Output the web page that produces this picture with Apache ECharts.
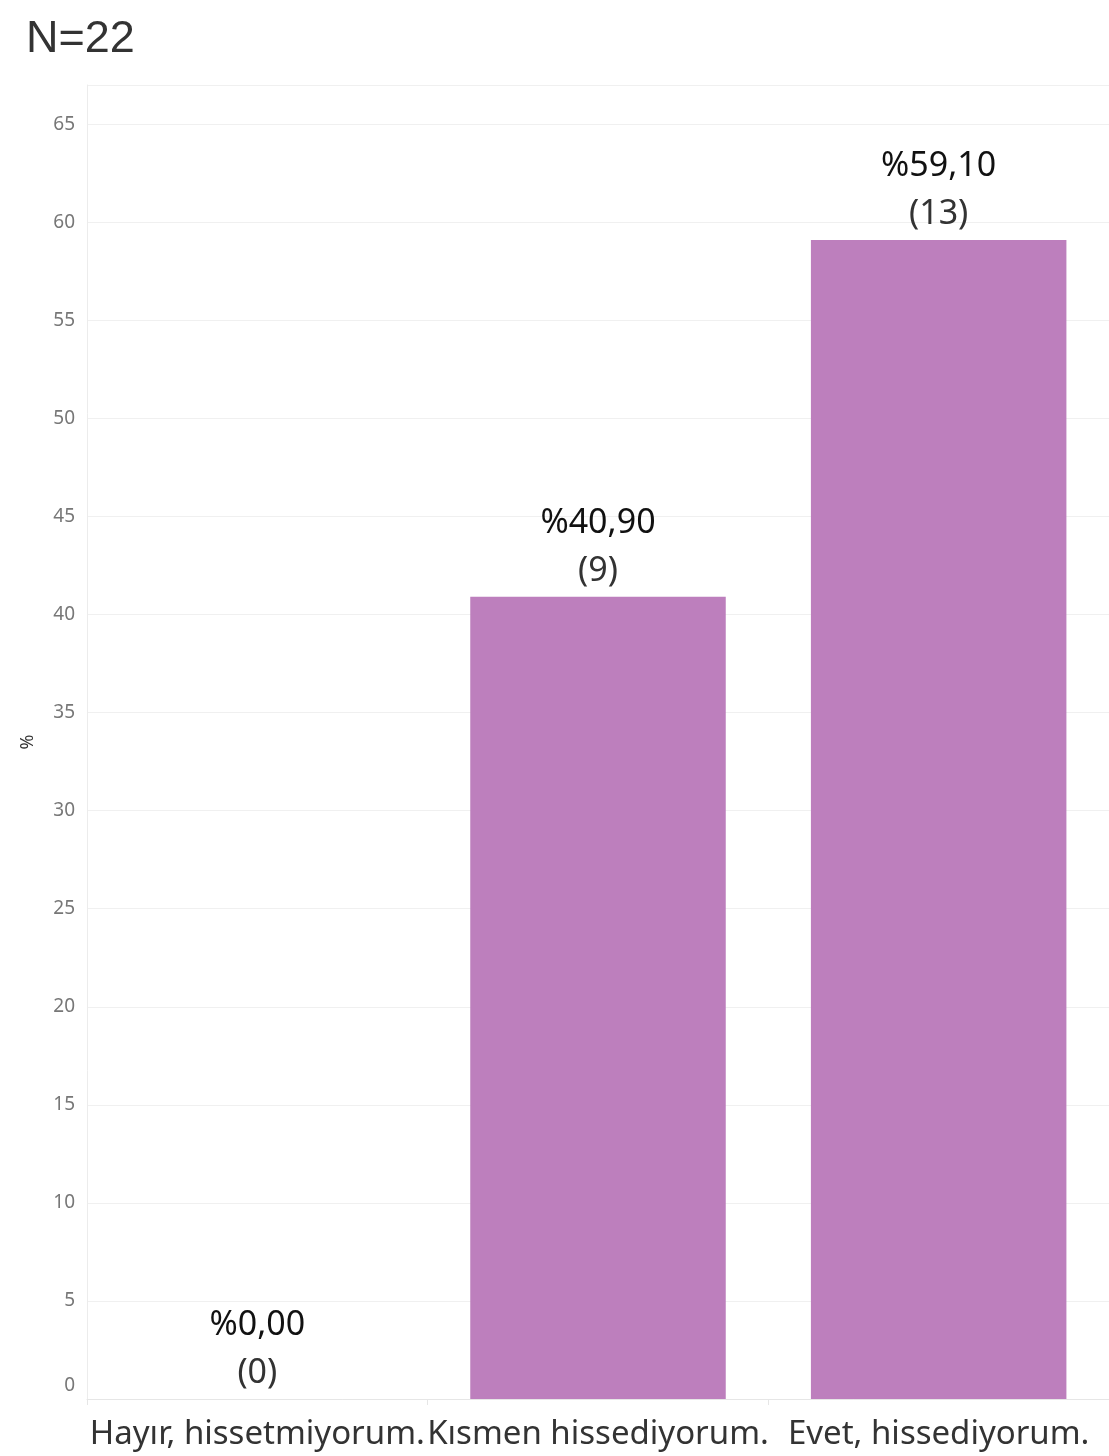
<!DOCTYPE html>
<html><head><meta charset="utf-8">
<script src="https://cdn.jsdelivr.net/npm/echarts@6/dist/echarts.min.js"></script>
<style>html,body{margin:0;padding:0;background:#fff}#c{width:1109px;height:1456px}</style>
</head><body><div id="c"></div>
<script>
const categories = ['Hayır, hissetmiyorum.', 'Kısmen hissediyorum.', 'Evet, hissediyorum.'];
const percents = [0, 40.9, 59.1];
const counts = [0, 9, 13];
const yTicks = [0, 5, 10, 15, 20, 25, 30, 35, 40, 45, 50, 55, 60, 65];

const chart = echarts.init(document.getElementById('c'));
const fmt = v => '%' + v.toFixed(2).replace('.', ',');
chart.setOption({
  animation: false,
  title: { text: 'N=22', left: 21, top: 12, textStyle: { fontFamily: 'Liberation Sans', fontSize: 45, fontWeight: 'normal', color: '#333' } },
  grid: { left: 87, right: 0, top: 85, bottom: 57 },
  xAxis: {
    type: 'category', data: categories,
    axisLine: { show: true, lineStyle: { color: '#e6e6e6' } },
    axisTick: { show: true, alignWithLabel: false, length: 6, lineStyle: { color: '#e6e6e6' } },
    axisLabel: { interval: 0, margin: 19, fontFamily: 'Noto Sans', fontSize: 33, color: '#333', hideOverlap: false }
  },
  yAxis: {
    type: 'value', min: 0, max: 67, interval: 5,
    name: '%', nameLocation: 'middle', nameGap: 50, nameRotate: 90,
    nameTextStyle: { fontFamily: 'Noto Sans', fontSize: 18, color: '#333' },
    axisLine: { show: true, lineStyle: { color: '#ececec' } },
    axisTick: { show: false },
    splitLine: { lineStyle: { color: '#f0f0f0', width: 1 } },
    axisLabel: {
      showMaxLabel: false, margin: 12, fontFamily: 'Noto Sans', fontSize: 19, color: '#777',
      formatter: v => yTicks.includes(v) ? (v === 0 ? '{z|0}' : String(v)) : '',
      rich: { z: { fontFamily: 'Noto Sans', fontSize: 19, color: '#777', padding: [0, 0, 26, 0] } }
    }
  },
  series: [{
    type: 'bar', barWidth: '75%',
    data: percents,
    itemStyle: { color: '#BD7FBD' },
    label: {
      show: true, position: 'top', distance: 2,
      formatter: p => '{a|' + fmt(p.value) + '}\n{b|(' + counts[p.dataIndex] + ')}',
      rich: {
        a: { fontFamily: 'Noto Sans', fontSize: 34, color: '#111', lineHeight: 48, align: 'center' },
        b: { fontFamily: 'Noto Sans', fontSize: 34, color: '#333', lineHeight: 48, align: 'center' }
      }
    }
  }]
});
</script></body></html>
